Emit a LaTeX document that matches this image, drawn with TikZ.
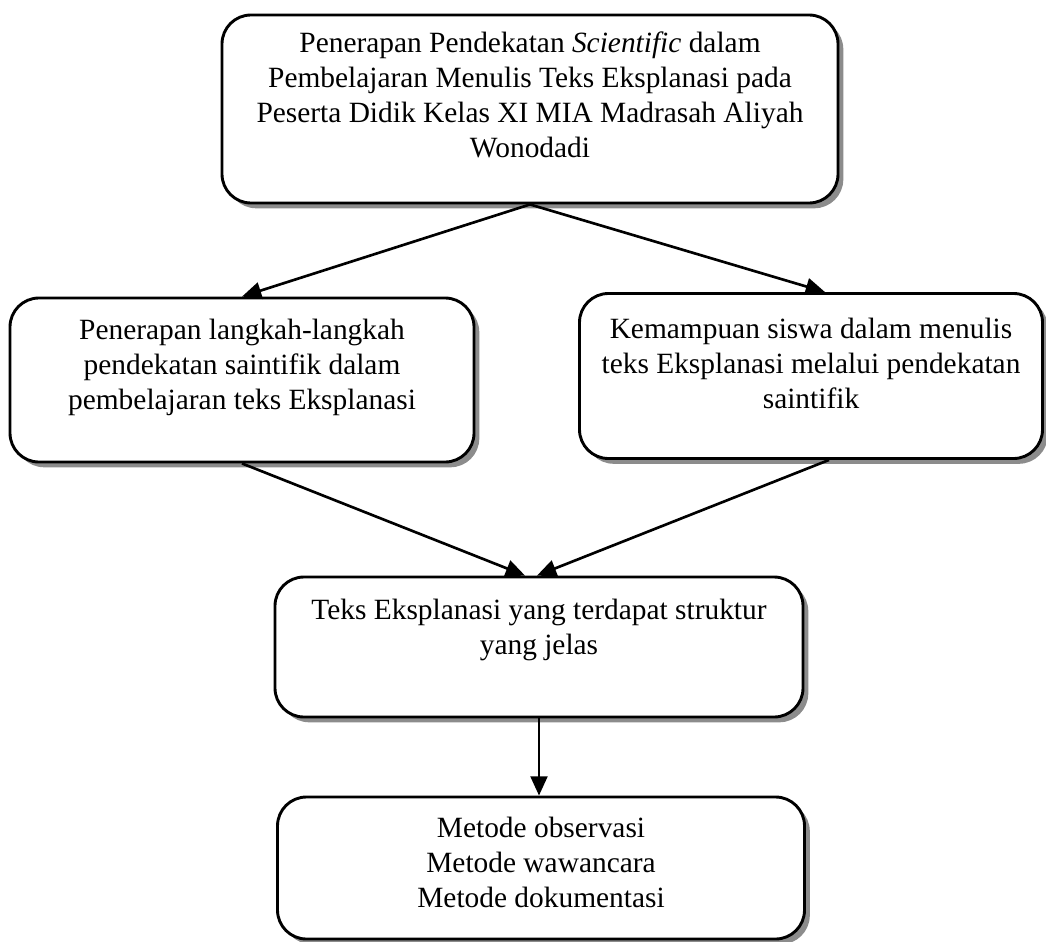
\documentclass[tikz,border=0pt]{standalone}
\usepackage{fontspec}
\setmainfont{Liberation Serif}
\usetikzlibrary{arrows.meta, shadows}

\begin{document}
\begin{tikzpicture}[x=0.415pt, y=-0.415pt,
        kotak/.style={draw, line width=1.2pt, rounded corners=12pt, fill=white, inner sep=0pt,
            drop shadow={shadow xshift=2.2pt, shadow yshift=-2.2pt, fill=black!45, opacity=1}},
        isi/.style={align=center, font=\fontsize{12.2}{14.5}\selectfont, inner sep=0pt},
        panah/.style={line width=1.1pt, -{Triangle[length=8pt, width=7pt]}}]
        \useasboundingbox (0,0) rectangle (1046,941);

        \node[kotak, minimum width=616*0.415pt, minimum height=188*0.415pt] (judul) at (530, 109) {};
        \node[isi] (tjudul) at (530, 95) {Penerapan Pendekatan \textit{Scientific} dalam\\
            Pembelajaran Menulis Teks Eksplanasi pada\\
            Peserta Didik Kelas XI MIA Madrasah Aliyah\\
            Wonodadi};

        \node[kotak, minimum width=464*0.415pt, minimum height=164*0.415pt] (kiri) at (242, 380) {};
        \node[isi] (tkiri) at (242, 367) {Penerapan langkah-langkah\\
            pendekatan saintifik dalam\\
            pembelajaran teks Eksplanasi};

        \node[kotak, minimum width=463*0.415pt, minimum height=165*0.415pt] (kanan) at (811, 376) {};
        \node[isi] (tkanan) at (811, 363) {Kemampuan siswa dalam menulis\\
            teks Eksplanasi melalui pendekatan\\
            saintifik};

        \node[kotak, minimum width=528*0.415pt, minimum height=140*0.415pt] (hasil) at (539, 647) {};
        \node[isi] (thasil) at (539, 630) {Teks Eksplanasi yang terdapat struktur\\
            yang jelas};

        \node[kotak, minimum width=527*0.415pt, minimum height=142*0.415pt] (metode) at (541, 868) {};
        \node[isi] (tmetode) at (541, 862) {Metode observasi\\
            Metode wawancara\\
            Metode dokumentasi};

        \draw[panah] (judul.south) -- (kiri.north);
        \draw[panah] (judul.south) -- ([xshift=14*0.415pt]kanan.north);
        \draw[panah] (kiri.south) -- ([xshift=-14*0.415pt]hasil.north);
        \draw[panah] ([xshift=18*0.415pt]kanan.south) -- ([xshift=-2*0.415pt]hasil.north);
        \draw[panah] (hasil.south) -- (hasil.south |- metode.north);
    \end{tikzpicture}
\end{document}
